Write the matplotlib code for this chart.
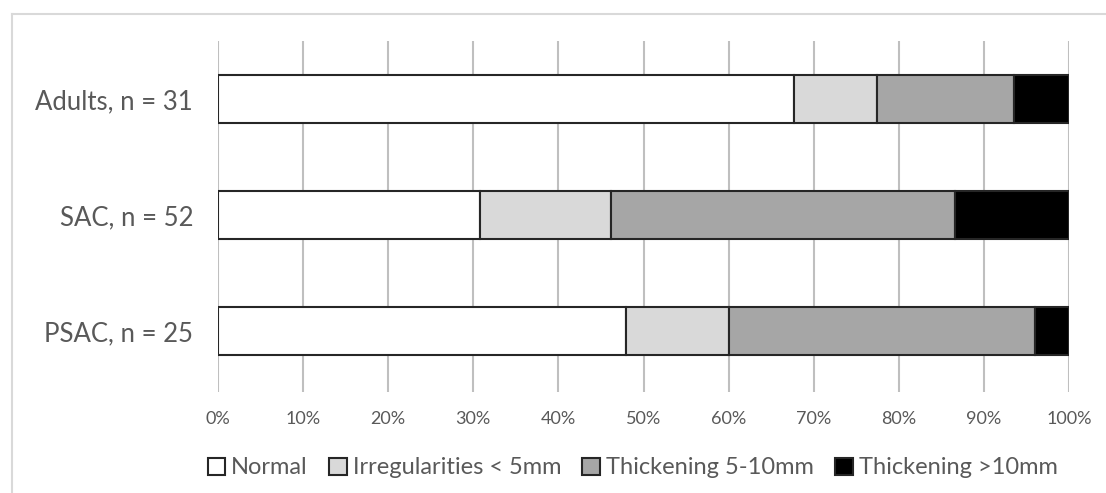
import matplotlib.pyplot as plt
from matplotlib.lines import Line2D
from matplotlib.patches import Patch

groups = ["Adults, n = 31", "SAC, n = 52", "PSAC, n = 25"]
categories = ["Normal", "Irregularities < 5mm", "Thickening 5-10mm", "Thickening >10mm"]
colors = ["#ffffff", "#d9d9d9", "#a6a6a6", "#000000"]

# percentage of each group per category
normal = [67.7, 30.8, 48.0]
irregular = [9.7, 15.4, 12.0]
thick_5_10 = [16.1, 40.4, 36.0]
thick_10 = [6.5, 13.4, 4.0]
series = [normal, irregular, thick_5_10, thick_10]

xticks = [0, 10, 20, 30, 40, 50, 60, 70, 80, 90, 100]

plt.rcParams['font.family'] = ['Lato', 'DejaVu Sans']

fig = plt.figure(figsize=(11.06, 4.93), dpi=100)
ax = fig.add_axes([218 / 1106, 1 - 392 / 493, 851 / 1106, 351 / 493])

# outer chart frame
fig.add_artist(Line2D([12 / 1106, 12 / 1106], [0, 1 - 14 / 493],
                      color="#d9d9d9", lw=1.5, transform=fig.transFigure))
fig.add_artist(Line2D([12 / 1106, 1], [1 - 14 / 493, 1 - 14 / 493],
                      color="#d9d9d9", lw=1.5, transform=fig.transFigure))

ypos = list(range(len(groups)))
left = [0.0] * len(groups)
for vals, col, name in zip(series, colors, categories):
    ax.barh(ypos, vals, left=left, height=0.41, color=col,
            edgecolor="#262626", linewidth=1.5, label=name, zorder=3)
    left = [l + v for l, v in zip(left, vals)]

ax.set_xlim(0, 100)
ax.set_ylim(2.526, -0.5)
ax.set_xticks(xticks)
ax.set_xticklabels([f"{t}%" for t in xticks], fontsize=13, color="#595959")
ax.set_yticks(ypos)
ax.set_yticklabels(groups, fontsize=18.5, color="#595959")
ax.tick_params(axis="x", length=0, pad=14)
ax.tick_params(axis="y", length=0, pad=18)
ax.grid(axis="x", color="#bfbfbf", linewidth=1.5, zorder=0)
for s in ax.spines.values():
    s.set_visible(False)

handles = [Patch(facecolor=c, edgecolor="#262626", linewidth=1.5) for c in colors]
fig.legend(handles, categories, loc="center", bbox_to_anchor=(0.572, 1 - 468 / 493),
           ncol=4, frameon=False, fontsize=17, labelcolor="#595959",
           handlelength=0.75, handleheight=0.75, handletextpad=0.25, columnspacing=0.9)

fig.savefig("out.png", dpi=100)
